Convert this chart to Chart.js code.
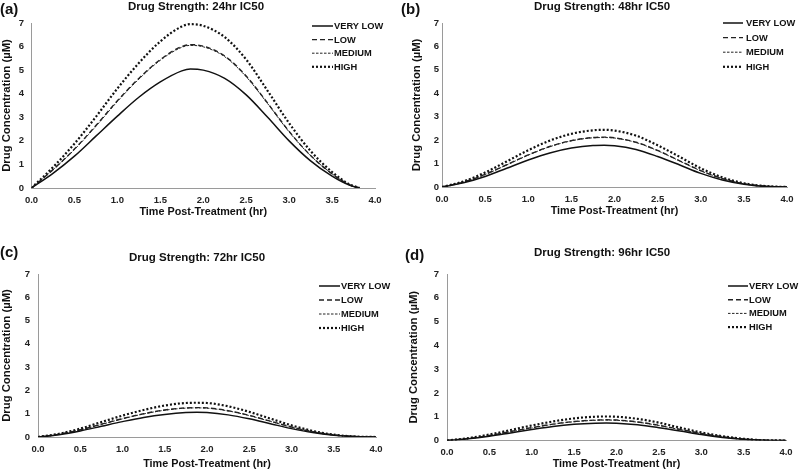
<!DOCTYPE html>
<html><head><meta charset="utf-8">
<script src="https://cdn.jsdelivr.net/npm/chart.js@4.4.1/dist/chart.umd.min.js"></script>
<style>
html,body{margin:0;padding:0;background:#fff;width:800px;height:472px;overflow:hidden;}
.panel{position:absolute;width:400px;height:236px;}
.panel canvas{position:absolute;left:0;top:0;}
.tag{position:absolute;font:bold 15px "Liberation Sans",Arial,sans-serif;line-height:15px;color:#111;white-space:nowrap;}
</style></head><body>
<div class="panel" style="left:0;top:0"><canvas id="ca" width="400" height="236"></canvas></div>
<div class="panel" style="left:400px;top:0"><canvas id="cb" width="400" height="236"></canvas></div>
<div class="panel" style="left:0;top:236px"><canvas id="cc" width="400" height="236"></canvas></div>
<div class="panel" style="left:400px;top:236px"><canvas id="cd" width="400" height="236"></canvas></div>
<div class="tag" style="left:0;top:1px">(a)</div>
<div class="tag" style="left:401px;top:1px">(b)</div>
<div class="tag" style="left:0;top:244px">(c)</div>
<div class="tag" style="left:405px;top:247px">(d)</div>
<script>
// ---- data ----
const seriesNames = ['VERY LOW', 'LOW', 'MEDIUM', 'HIGH'];
const panelTitles = ['Drug Strength: 24hr IC50', 'Drug Strength: 48hr IC50', 'Drug Strength: 72hr IC50', 'Drug Strength: 96hr IC50'];
const xAxisTitle = 'Time Post-Treatment (hr)';
const yAxisTitle = 'Drug Concentration (\u00b5M)';

const timesA = [0, 0.25, 0.5, 0.75, 1, 1.25, 1.5, 1.75, 1.85, 2, 2.25, 2.5, 2.75, 3, 3.25, 3.5, 3.7, 3.82];
const veryLowA = [0, 0.62, 1.35, 2.2, 3.05, 3.85, 4.5, 4.97, 5.05, 5.0, 4.65, 3.95, 3.0, 2.0, 1.15, 0.5, 0.12, 0];
const lowA     = [0, 0.78, 1.65, 2.65, 3.7, 4.65, 5.45, 6.0, 6.08, 6.02, 5.6, 4.75, 3.6, 2.4, 1.38, 0.6, 0.14, 0];
const mediumA  = [0, 0.77, 1.63, 2.62, 3.67, 4.62, 5.42, 5.97, 6.05, 5.99, 5.57, 4.72, 3.58, 2.38, 1.37, 0.6, 0.14, 0];
const highA    = [0, 0.88, 1.88, 3.02, 4.22, 5.3, 6.22, 6.85, 6.95, 6.88, 6.4, 5.45, 4.12, 2.75, 1.57, 0.68, 0.16, 0];

const timesB = [0, 0.25, 0.5, 0.75, 1, 1.25, 1.5, 1.75, 1.88, 2, 2.25, 2.5, 2.75, 3, 3.25, 3.5, 3.75, 4];
const veryLowB = [0, 0.18, 0.45, 0.8, 1.15, 1.45, 1.66, 1.77, 1.78, 1.76, 1.6, 1.3, 0.95, 0.58, 0.3, 0.12, 0.03, 0];
const lowB     = [0, 0.21, 0.54, 0.95, 1.37, 1.73, 1.98, 2.11, 2.13, 2.1, 1.91, 1.56, 1.13, 0.7, 0.36, 0.14, 0.03, 0];
const mediumB  = [0, 0.21, 0.53, 0.94, 1.36, 1.72, 1.97, 2.1, 2.11, 2.09, 1.9, 1.55, 1.12, 0.69, 0.36, 0.14, 0.03, 0];
const highB    = [0, 0.24, 0.62, 1.09, 1.57, 1.98, 2.27, 2.42, 2.44, 2.41, 2.19, 1.78, 1.3, 0.8, 0.41, 0.16, 0.04, 0];

const timesC = [0, 0.25, 0.5, 0.75, 1, 1.25, 1.5, 1.75, 1.88, 2, 2.25, 2.5, 2.75, 3, 3.25, 3.5, 3.75, 4];
const veryLowC = [0, 0.1, 0.26, 0.46, 0.66, 0.84, 0.97, 1.05, 1.06, 1.05, 0.95, 0.78, 0.57, 0.36, 0.19, 0.08, 0.02, 0];
const lowC     = [0, 0.12, 0.31, 0.55, 0.79, 1.0, 1.16, 1.25, 1.26, 1.25, 1.13, 0.93, 0.68, 0.43, 0.23, 0.09, 0.02, 0];
const mediumC  = [0, 0.12, 0.3, 0.54, 0.78, 0.99, 1.15, 1.24, 1.25, 1.24, 1.12, 0.92, 0.67, 0.42, 0.22, 0.09, 0.02, 0];
const highC    = [0, 0.14, 0.36, 0.64, 0.92, 1.16, 1.35, 1.46, 1.47, 1.46, 1.32, 1.08, 0.79, 0.5, 0.26, 0.1, 0.02, 0];

const timesD = [0, 0.25, 0.5, 0.75, 1, 1.25, 1.5, 1.75, 1.88, 2, 2.25, 2.5, 2.75, 3, 3.25, 3.5, 3.75, 4];
const veryLowD = [0, 0.07, 0.18, 0.32, 0.46, 0.59, 0.68, 0.73, 0.74, 0.73, 0.66, 0.54, 0.4, 0.25, 0.13, 0.05, 0.01, 0];
const lowD     = [0, 0.08, 0.21, 0.38, 0.54, 0.69, 0.8, 0.86, 0.87, 0.86, 0.78, 0.64, 0.47, 0.3, 0.16, 0.06, 0.01, 0];
const mediumD  = [0, 0.08, 0.21, 0.37, 0.53, 0.68, 0.79, 0.85, 0.86, 0.85, 0.77, 0.63, 0.46, 0.29, 0.15, 0.06, 0.01, 0];
const highD    = [0, 0.1, 0.25, 0.44, 0.63, 0.8, 0.93, 1.0, 1.01, 1.0, 0.91, 0.75, 0.54, 0.34, 0.18, 0.07, 0.01, 0];

// ---- styles ----
const FONT = '"Liberation Sans", Arial, Helvetica, sans-serif';
const lineStyles = [
  {color: '#111', width: 1.5, dash: []},
  {color: '#222', width: 1.4, dash: [5, 3]},
  {color: '#222', width: 1.0, dash: [2.5, 1.5]},
  {color: '#111', width: 2.2, dash: [2, 2]}
];
const SZ = {title: 11.5, tick: 9.5, xTitle: 10.8, yTitle: 11.3, legend: 9.3};

const inlineLegend = {
  id: 'inlineLegend',
  afterDraw(chart, args, o) {
    const ctx = chart.ctx;
    ctx.save();
    ctx.font = 'bold ' + SZ.legend + 'px ' + FONT;
    ctx.textBaseline = 'middle';
    ctx.textAlign = 'left';
    chart.data.datasets.forEach((ds, i) => {
      const y = o.y0 + i * o.dy;
      ctx.strokeStyle = ds.borderColor;
      ctx.lineWidth = ds.borderWidth;
      ctx.setLineDash(ds.borderDash || []);
      ctx.lineCap = 'butt';
      ctx.beginPath();
      ctx.moveTo(o.x, y);
      ctx.lineTo(o.x + o.len, y);
      ctx.stroke();
      ctx.setLineDash([]);
      ctx.fillStyle = '#111';
      ctx.fillText(ds.label, o.tx, y + 0.5);
    });
    ctx.restore();
  }
};

function build(id, title, times, seriesList, p) {
  const W = 400, H = 236;
  const lhT = SZ.title * 1.2, lhTick = SZ.tick * 1.2, lhX = SZ.xTitle * 1.2, lhY = SZ.yTitle * 1.2;
  const padL = p.yTitleX - lhY / 2;
  const padR = W + padL - 2 * p.titleX;
  const titleTop = p.titleY - lhT / 2;
  const titleBottom = p.area.t - lhT - titleTop;
  const tickFont = {family: FONT, size: SZ.tick, weight: 'bold'};
  const datasets = seriesList.map((vals, i) => ({
    label: seriesNames[i],
    data: times.map((t, k) => ({x: t, y: vals[k]})),
    borderColor: lineStyles[i].color,
    borderWidth: lineStyles[i].width,
    borderDash: lineStyles[i].dash,
    pointRadius: 0,
    fill: false,
    cubicInterpolationMode: 'monotone'
  }));
  return new Chart(document.getElementById(id), {
    type: 'line',
    data: {datasets},
    options: {
      responsive: false,
      animation: false,
      layout: {padding: {left: padL, right: padR, top: 0, bottom: 0}},
      plugins: {
        legend: {display: false},
        tooltip: {enabled: false},
        title: {display: true, text: title, color: '#111',
          font: {family: FONT, size: SZ.title, weight: 'bold'},
          padding: {top: titleTop, bottom: titleBottom}},
        inlineLegend: p.legend
      },
      scales: {
        x: {
          type: 'linear', min: 0, max: 4,
          ticks: {stepSize: 0.5, autoSkip: false, maxRotation: 0, callback: v => v.toFixed(1),
            padding: p.labelY - p.area.b - lhTick / 2, font: tickFont, color: '#222'},
          grid: {display: false, drawTicks: false},
          border: {color: '#9a9a9a', width: 1},
          title: {display: true, text: xAxisTitle, color: '#111',
            font: {family: FONT, size: SZ.xTitle, weight: 'bold'},
            padding: {top: 0, bottom: H - p.xTitleY - lhX / 2}},
          afterFit: s => { s.height = H - p.area.b; }
        },
        y: {
          min: 0, max: 7,
          ticks: {stepSize: 1, padding: p.area.l - p.yLabelRight, font: tickFont, color: '#222'},
          grid: {display: false, drawTicks: false},
          border: {color: '#9a9a9a', width: 1},
          title: {display: true, text: yAxisTitle, color: '#111',
            font: {family: FONT, size: SZ.yTitle, weight: 'bold'},
            padding: {top: 0, bottom: 0}},
          afterFit: s => { s.width = p.area.l - padL; }
        },
        yRightSpace: {
          position: 'right', min: 0, max: 7,
          ticks: {display: false},
          grid: {display: false, drawTicks: false},
          border: {display: false},
          afterFit: s => { s.width = W - p.area.r - padR; }
        }
      }
    },
    plugins: [inlineLegend]
  });
}

build('ca', panelTitles[0], timesA, [veryLowA, lowA, mediumA, highA], {
  area: {l: 31.5, r: 375, t: 23, b: 188}, titleX: 196, titleY: 7, yTitleX: 7, yLabelRight: 24,
  labelY: 200, xTitleY: 212, legend: {x: 312, len: 21, tx: 334, y0: 26, dy: 13.6}
});
build('cb', panelTitles[1], timesB, [veryLowB, lowB, mediumB, highB], {
  area: {l: 42, r: 387, t: 23, b: 187}, titleX: 202, titleY: 7, yTitleX: 16.5, yLabelRight: 39,
  labelY: 199, xTitleY: 211, legend: {x: 323, len: 20, tx: 346, y0: 23, dy: 14.6}
});
build('cc', panelTitles[2], timesC, [veryLowC, lowC, mediumC, highC], {
  area: {l: 38, r: 376, t: 38, b: 201}, titleX: 197, titleY: 22, yTitleX: 7, yLabelRight: 30,
  labelY: 213, xTitleY: 228, legend: {x: 319, len: 21, tx: 341, y0: 50, dy: 14}
});
build('cd', panelTitles[3], timesD, [veryLowD, lowD, mediumD, highD], {
  area: {l: 47, r: 386, t: 38, b: 204.5}, titleX: 202, titleY: 17, yTitleX: 14, yLabelRight: 39,
  labelY: 216.5, xTitleY: 228, legend: {x: 328, len: 20, tx: 349, y0: 50, dy: 13.7}
});
</script>
</body></html>
